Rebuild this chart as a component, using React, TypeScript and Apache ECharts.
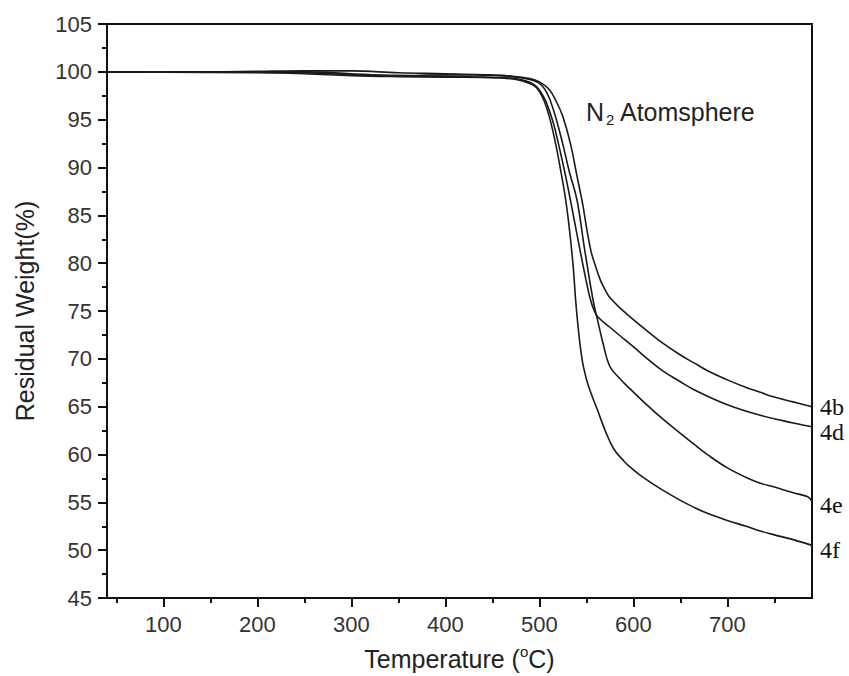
import React, { useEffect, useRef } from "react";
import * as echarts from "echarts";

const seriesNames = ["4b", "4d", "4e", "4f"];

const data4b: [number, number][] = [
  [40, 100], [100, 100], [150, 100], [200, 100.05], [250, 100.1], [300, 100.1], [350, 99.9],
  [400, 99.8], [440, 99.7], [470, 99.55], [490, 99.3], [500, 98.95], [510, 98.2], [518, 96.9],
  [525, 95.3], [533, 92.5], [540, 89.1], [546, 86.2], [550, 83.8], [555, 81.2], [560, 79.6],
  [565, 78.2], [570, 77.2], [575, 76.4], [586, 75.3], [600, 74.1], [611, 73.2], [629, 71.8],
  [650, 70.4], [664, 69.6], [680, 68.7], [700, 67.8], [720, 67.0], [735, 66.5], [750, 66.0],
  [770, 65.5], [790, 65.0],
];

const data4d: [number, number][] = [
  [40, 100], [100, 100], [200, 100], [250, 100], [300, 99.8], [350, 99.6], [400, 99.55],
  [440, 99.45], [460, 99.4], [480, 99.2], [495, 98.6], [505, 97.3], [510, 96.1], [515, 94.6],
  [520, 92.6], [527, 89.5], [533, 86.6], [540, 83.0], [548, 79.0], [554, 76.3], [558, 75.1],
  [562, 74.4], [575, 73.3], [597, 71.5], [629, 68.9], [650, 67.6], [664, 66.8], [700, 65.2],
  [735, 64.1], [770, 63.3], [790, 62.9],
];

const data4e: [number, number][] = [
  [40, 100], [100, 100], [200, 99.95], [250, 99.9], [300, 99.7], [350, 99.6], [400, 99.7],
  [440, 99.65], [460, 99.6], [485, 99.3], [500, 98.8], [508, 97.8], [515, 96.0], [524.5, 92.6],
  [532, 89.5], [540, 86.6], [548, 81.5], [557, 76.2], [562, 74.0], [568, 71.5], [575, 69.2],
  [586, 67.9], [597, 66.8], [612, 65.4], [629, 63.9], [650, 62.2], [664, 61.1], [680, 59.9],
  [700, 58.6], [720, 57.6], [735, 57.0], [750, 56.6], [770, 56.0], [785, 55.6], [790, 55.1],
];

const data4f: [number, number][] = [
  [40, 100], [100, 99.95], [200, 99.9], [250, 99.8], [300, 99.6], [350, 99.5], [400, 99.45],
  [440, 99.4], [460, 99.35], [480, 99.1], [495, 98.5], [503, 97.4], [510, 95.5], [517, 92.6],
  [523, 89.5], [528, 86.6], [532, 83.5], [536, 79.6], [538.5, 76.2], [541, 73.5], [544, 70.9],
  [547, 69.1], [552, 67.2], [562, 64.6], [570, 62.5], [579, 60.6], [590, 59.3], [600, 58.4],
  [612, 57.5], [629, 56.4], [650, 55.2], [664, 54.5], [680, 53.8], [700, 53.1], [720, 52.5],
  [735, 52.0], [750, 51.6], [770, 51.1], [790, 50.5],
];

const seriesData = [data4b, data4d, data4e, data4f];
const labelOffsets = [[2, 0], [2, 5], [2, 4], [2, 5]];

const xMajorTicks = [100, 200, 300, 400, 500, 600, 700];
const xMinorTicks = [50, 150, 250, 350, 450, 550, 650, 750];
const xMin = 40;
const xMax = 790;
const yMin = 45;
const yMax = 105;
const yInterval = 5;

const sansFont = "'Liberation Sans', Arial, Helvetica, sans-serif";
const serifFont = "'Liberation Serif', 'Times New Roman', serif";

export default function App() {
  const ref = useRef<HTMLDivElement>(null);
  useEffect(() => {
    if (!ref.current) return;
    const chart = echarts.init(ref.current, undefined, { renderer: "svg" });
    const option: any = {
      animation: false,
      backgroundColor: "#ffffff",
      grid: {
        left: 107,
        right: 37,
        top: 24,
        bottom: 78,
        show: true,
        borderColor: "#111",
        borderWidth: 2,
        backgroundColor: "transparent",
      },
      graphic: [
        {
          type: "text",
          left: 586,
          top: 99,
          style: {
            text: "{a|N}{s|2}{a| Atomsphere}",
            rich: {
              a: { fontSize: 25, fontFamily: sansFont, fill: "#222", lineHeight: 30 },
              s: { fontSize: 15, fontFamily: sansFont, fill: "#222", padding: [16, 0, 0, 2] },
            },
          },
        },
      ],
      xAxis: [
        {
          type: "value",
          min: xMin,
          max: xMax,
          position: "bottom",
          name: "Temperature ({s|o}C)",
          nameLocation: "middle",
          nameGap: 46,
          nameTextStyle: {
            fontSize: 25,
            fontFamily: sansFont,
            color: "#222",
            rich: {
              s: { fontSize: 15, fontFamily: sansFont, color: "#222", padding: [0, 0, 14, 0] },
            },
          },
          axisLine: { show: true, lineStyle: { color: "#111", width: 2 } },
          axisTick: {
            show: true,
            inside: false,
            length: 9,
            customValues: xMajorTicks,
            lineStyle: { color: "#111", width: 2 },
          },
          axisLabel: {
            show: true,
            customValues: xMajorTicks,
            margin: 15,
            fontSize: 22,
            fontFamily: sansFont,
            color: "#333",
          },
          splitLine: { show: false },
        },
        {
          type: "value",
          min: xMin,
          max: xMax,
          position: "bottom",
          axisLine: { show: false },
          axisTick: {
            show: true,
            inside: false,
            length: 5,
            customValues: xMinorTicks,
            lineStyle: { color: "#111", width: 2 },
          },
          axisLabel: { show: false },
          splitLine: { show: false },
        },
      ],
      yAxis: {
        type: "value",
        min: yMin,
        max: yMax,
        interval: yInterval,
        name: "Residual Weight(%)",
        nameLocation: "middle",
        nameGap: 70,
        nameTextStyle: { fontSize: 25, fontFamily: sansFont, color: "#222" },
        axisLine: { show: true, lineStyle: { color: "#111", width: 2 } },
        axisTick: { show: true, inside: false, length: 9, lineStyle: { color: "#111", width: 2 } },
        minorTick: { show: true, splitNumber: 2, length: 5, lineStyle: { color: "#111", width: 2 } },
        axisLabel: { margin: 15, fontSize: 22, fontFamily: sansFont, color: "#333" },
        splitLine: { show: false },
        minorSplitLine: { show: false },
      },
      series: seriesNames.map((name, i) => ({
        name,
        type: "line",
        xAxisIndex: 0,
        data: seriesData[i],
        showSymbol: false,
        symbol: "none",
        smooth: 0.4,
        lineStyle: { color: "#1a1a1a", width: 1.6 },
        endLabel: {
          show: true,
          formatter: name,
          fontFamily: serifFont,
          fontSize: 24,
          color: "#111",
          distance: 6,
          offset: labelOffsets[i],
        },
        z: 3,
      })),
    };
    chart.setOption(option);
    return () => chart.dispose();
  }, []);
  return (
    <div
      ref={ref}
      style={{ position: "absolute", left: 0, top: 0, width: 849, height: 676 }}
    />
  );
}
